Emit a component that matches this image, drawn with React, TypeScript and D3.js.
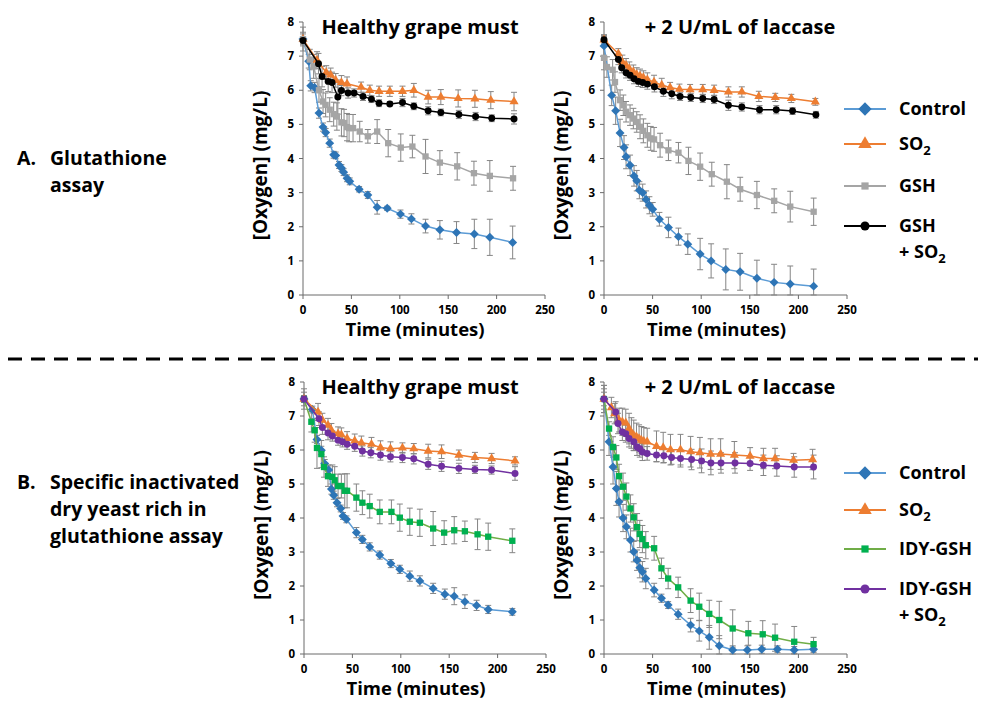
import React from 'react';
import * as d3 from 'd3';

// ---- data ----
const xTicks = [0, 50, 100, 150, 200, 250];
const yTicks = [0, 1, 2, 3, 4, 5, 6, 7, 8];

// A, healthy grape must
const aHealthyControlT = [0, 5.9, 8, 12, 16.5, 20.7, 23.4, 27.6, 31.7, 33.8, 37.2, 39.7, 42, 45.5, 48.3, 58, 67, 76.6, 87, 100.7, 112, 126.6, 141.4, 158.6, 177, 193, 216.6];
const aHealthyControlY = [7.5, 6.85, 6.13, 6.08, 5.33, 4.92, 4.76, 4.45, 4.11, 4.09, 3.81, 3.72, 3.6, 3.42, 3.33, 3.1, 2.93, 2.57, 2.54, 2.37, 2.23, 2.02, 1.91, 1.83, 1.79, 1.69, 1.54];
const aHealthyControlE = [0.15, 0.2, 0.15, 0.15, 0.15, 0.12, 0.12, 0.12, 0.1, 0.1, 0.1, 0.1, 0.1, 0.1, 0.1, 0.08, 0.1, 0.2, 0.06, 0.12, 0.15, 0.2, 0.27, 0.32, 0.43, 0.53, 0.48];
const aHealthySo2T = [0, 14.5, 24, 28.6, 33.8, 39.7, 45.5, 60, 69, 78.6, 89.7, 102.8, 114.5, 129.3, 142.4, 160.3, 177.6, 194, 218];
const aHealthySo2Y = [7.5, 6.88, 6.52, 6.45, 6.29, 6.23, 6.19, 6.09, 6.0, 5.97, 5.97, 5.97, 6.0, 5.8, 5.8, 5.76, 5.75, 5.71, 5.67];
const aHealthySo2E = [0.2, 0.25, 0.2, 0.2, 0.2, 0.2, 0.2, 0.15, 0.15, 0.15, 0.15, 0.15, 0.2, 0.2, 0.22, 0.25, 0.25, 0.25, 0.27];
const aHealthyGshT = [0, 7, 11, 16.5, 20.7, 23.4, 27.6, 31.7, 35, 39.7, 42.4, 45.5, 47.6, 51.7, 58.6, 67, 76.6, 88, 101, 113, 126.6, 141.4, 159.3, 176.6, 193, 217];
const aHealthyGshY = [7.5, 6.9, 6.7, 6.0, 5.67, 5.57, 5.43, 5.3, 5.23, 5.06, 5.04, 4.92, 4.89, 4.89, 4.79, 4.65, 4.79, 4.45, 4.32, 4.35, 4.06, 3.88, 3.77, 3.57, 3.49, 3.42];
const aHealthyGshE = [0.35, 0.3, 0.35, 0.35, 0.35, 0.35, 0.35, 0.35, 0.4, 0.4, 0.4, 0.4, 0.4, 0.4, 0.3, 0.2, 0.35, 0.4, 0.4, 0.33, 0.5, 0.35, 0.4, 0.35, 0.45, 0.35];
const aHealthyGshSo2T = [0, 16, 19.7, 26, 30, 36, 39.7, 46.6, 52.8, 62, 70.7, 78.6, 89.7, 102.8, 114.5, 129.3, 142.4, 161, 178.3, 195, 218];
const aHealthyGshSo2Y = [7.46, 6.78, 6.4, 6.26, 6.23, 5.8, 5.99, 5.92, 5.92, 5.82, 5.74, 5.62, 5.6, 5.64, 5.53, 5.4, 5.35, 5.29, 5.23, 5.18, 5.16];
const aHealthyGshSo2E = [0.1, 0.3, 0.3, 0.3, 0.3, 0.5, 0.15, 0.15, 0.12, 0.12, 0.1, 0.1, 0.06, 0.12, 0.1, 0.12, 0.1, 0.12, 0.12, 0.1, 0.15];

// A, + laccase
const aLaccaseControlT = [0, 7.9, 12, 16.5, 20.6, 22.7, 26.8, 30.9, 33.7, 36.4, 39.8, 43.3, 46.7, 50.1, 57, 66.3, 76.6, 86.2, 98.9, 110.2, 125.3, 140, 157.3, 175, 191.6, 215.7];
const aLaccaseControlY = [7.3, 5.85, 5.4, 4.75, 4.32, 4.05, 3.8, 3.49, 3.35, 3.07, 3.0, 2.8, 2.63, 2.51, 2.22, 1.98, 1.71, 1.49, 1.2, 1.0, 0.75, 0.68, 0.49, 0.37, 0.32, 0.26];
const aLaccaseControlE = [0.3, 0.3, 0.4, 0.4, 0.35, 0.35, 0.3, 0.3, 0.3, 0.25, 0.25, 0.25, 0.25, 0.2, 0.2, 0.3, 0.25, 0.3, 0.46, 0.5, 0.6, 0.54, 0.53, 0.53, 0.53, 0.5];
const aLaccaseSo2T = [0, 14.8, 18.9, 22.7, 26.1, 30.2, 33.7, 37.1, 40.5, 44.6, 51.5, 59.4, 68, 77.6, 88.6, 101.6, 113.3, 128, 141.8, 159.3, 176.2, 192.7, 217.4];
const aLaccaseSo2Y = [7.48, 7.07, 6.83, 6.73, 6.63, 6.54, 6.46, 6.42, 6.37, 6.31, 6.24, 6.15, 6.08, 6.03, 6.02, 6.02, 6.0, 5.95, 5.95, 5.82, 5.79, 5.76, 5.66];
const aLaccaseSo2E = [0.15, 0.15, 0.2, 0.2, 0.2, 0.2, 0.2, 0.2, 0.2, 0.2, 0.2, 0.2, 0.15, 0.15, 0.15, 0.15, 0.15, 0.15, 0.15, 0.15, 0.12, 0.12, 0.1];
const aLaccaseGshT = [0, 3, 8.9, 11.3, 16.5, 19.9, 22.7, 26.8, 30.2, 33.7, 37.1, 40.5, 44.6, 48.1, 51.5, 57.7, 66.3, 76.6, 86.9, 98.9, 110.9, 126.4, 140.1, 157.3, 175.1, 191.6, 215.7];
const aLaccaseGshY = [6.95, 6.68, 6.6, 6.24, 5.71, 5.56, 5.37, 5.27, 5.17, 5.07, 4.93, 4.81, 4.68, 4.59, 4.56, 4.39, 4.24, 4.17, 3.93, 3.76, 3.54, 3.32, 3.1, 2.93, 2.76, 2.59, 2.44];
const aLaccaseGshE = [0.35, 0.3, 0.3, 0.3, 0.3, 0.3, 0.3, 0.3, 0.3, 0.3, 0.35, 0.35, 0.35, 0.35, 0.35, 0.35, 0.3, 0.3, 0.4, 0.4, 0.35, 0.5, 0.35, 0.4, 0.35, 0.45, 0.4];
const aLaccaseGshSo2T = [0, 14.8, 18.2, 22.7, 26.8, 30.9, 35.4, 39.8, 44.6, 51.9, 61.1, 69.7, 78.3, 89.3, 101.6, 113.3, 128, 141.8, 160, 177.2, 194, 218];
const aLaccaseGshSo2Y = [7.48, 6.9, 6.66, 6.51, 6.44, 6.34, 6.26, 6.23, 6.18, 6.1, 5.97, 5.9, 5.82, 5.79, 5.76, 5.73, 5.56, 5.51, 5.43, 5.43, 5.39, 5.28];
const aLaccaseGshSo2E = [0.1, 0.15, 0.15, 0.15, 0.15, 0.15, 0.15, 0.15, 0.15, 0.15, 0.15, 0.15, 0.12, 0.12, 0.12, 0.12, 0.15, 0.12, 0.12, 0.12, 0.1, 0.1];

// B, healthy grape must
const bHealthyControlT = [0, 8.6, 13.4, 17.9, 21.4, 25.5, 28.3, 30.7, 34.1, 37.9, 40.3, 43.8, 54.1, 60.3, 67.9, 78.3, 89.7, 99, 109.3, 119.7, 133.4, 145.5, 155.2, 166.2, 178.3, 190.3, 215.2];
const bHealthyControlY = [7.5, 7.19, 6.31, 5.99, 5.6, 5.41, 4.85, 4.67, 4.45, 4.28, 4.06, 3.96, 3.57, 3.37, 3.15, 2.91, 2.66, 2.49, 2.29, 2.15, 1.93, 1.76, 1.7, 1.54, 1.43, 1.31, 1.24];
const bHealthyControlE = [0.1, 0.1, 0.12, 0.12, 0.12, 0.15, 0.15, 0.12, 0.12, 0.1, 0.1, 0.1, 0.15, 0.12, 0.12, 0.12, 0.12, 0.12, 0.15, 0.15, 0.15, 0.15, 0.25, 0.2, 0.15, 0.12, 0.1];
const bHealthySo2T = [0, 14.5, 19, 24.8, 28.3, 35.2, 38.6, 44.5, 52.4, 59.3, 69.7, 79, 89.3, 101.7, 113.4, 128.3, 142.1, 160, 176.6, 193.8, 218];
const bHealthySo2Y = [7.5, 7.12, 6.88, 6.73, 6.58, 6.48, 6.45, 6.34, 6.27, 6.21, 6.17, 6.07, 6.04, 6.06, 6.04, 5.97, 5.95, 5.85, 5.78, 5.75, 5.68];
const bHealthySo2E = [0.3, 0.25, 0.2, 0.2, 0.2, 0.2, 0.2, 0.2, 0.2, 0.2, 0.2, 0.2, 0.2, 0.15, 0.15, 0.2, 0.2, 0.15, 0.15, 0.15, 0.12];
const bHealthyIdyT = [0, 7.6, 11, 13.4, 17.9, 20.7, 24.8, 29.3, 31.7, 35.2, 38.6, 42.1, 44.5, 54.1, 60.3, 67.9, 78.3, 90.3, 99, 109.3, 119.7, 133.4, 144.8, 155.2, 166.2, 179.3, 190.3, 215.2];
const bHealthyIdyY = [7.5, 6.83, 6.58, 6.06, 5.88, 5.5, 5.23, 5.21, 5.11, 4.94, 4.94, 4.8, 4.8, 4.6, 4.45, 4.35, 4.18, 4.18, 4.01, 3.89, 3.86, 3.69, 3.57, 3.64, 3.61, 3.52, 3.45, 3.33];
const bHealthyIdyE = [0.1, 0.3, 0.35, 0.6, 0.4, 0.3, 0.3, 0.35, 0.4, 0.35, 0.35, 0.5, 0.5, 0.4, 0.35, 0.35, 0.35, 0.35, 0.4, 0.4, 0.4, 0.5, 0.35, 0.4, 0.3, 0.45, 0.4, 0.35];
const bHealthyIdySo2T = [0, 15.5, 19, 24.8, 29.3, 35.2, 39.7, 44.5, 52.4, 60.3, 69, 79, 89.3, 101.7, 113.4, 128.3, 142.1, 160, 176.6, 193.8, 218];
const bHealthyIdySo2Y = [7.5, 6.92, 6.66, 6.5, 6.41, 6.29, 6.24, 6.17, 6.11, 5.97, 5.92, 5.85, 5.8, 5.78, 5.74, 5.58, 5.52, 5.46, 5.43, 5.41, 5.31];
const bHealthyIdySo2E = [0.2, 0.2, 0.2, 0.2, 0.15, 0.15, 0.15, 0.15, 0.15, 0.15, 0.15, 0.15, 0.15, 0.15, 0.15, 0.15, 0.15, 0.15, 0.12, 0.12, 0.2];

// B, + laccase
const bLaccaseControlT = [0, 5.2, 9.3, 12.7, 15.5, 19.6, 23, 27.2, 30.6, 34, 36.8, 39.5, 43, 51.6, 59.1, 66, 76.3, 89.1, 98, 108.3, 118.6, 132.4, 147.5, 162.3, 178.5, 195.7, 215.6];
const bLaccaseControlY = [7.5, 6.24, 5.5, 4.87, 4.48, 4.0, 3.74, 3.35, 3.01, 2.76, 2.54, 2.42, 2.22, 1.88, 1.64, 1.44, 1.17, 0.85, 0.68, 0.49, 0.24, 0.12, 0.12, 0.14, 0.14, 0.12, 0.14];
const bLaccaseControlE = [0.4, 0.4, 0.5, 0.5, 0.45, 0.4, 0.35, 0.35, 0.3, 0.3, 0.3, 0.3, 0.3, 0.2, 0.12, 0.1, 0.15, 0.2, 0.3, 0.35, 0.3, 0.12, 0.12, 0.12, 0.1, 0.1, 0.1];
const bLaccaseSo2T = [0, 7.6, 11, 15.5, 18.9, 22.4, 25.8, 28.2, 30.6, 33.4, 36.1, 38.5, 41, 44.4, 54, 60.9, 68.4, 78.7, 89.1, 98.7, 109.7, 120, 134.1, 150.3, 164, 176, 195, 214.6];
const bLaccaseSo2Y = [7.5, 7.25, 7.07, 6.88, 6.83, 6.8, 6.63, 6.5, 6.43, 6.39, 6.34, 6.29, 6.26, 6.24, 6.11, 6.07, 6.01, 6.01, 5.95, 5.92, 5.88, 5.88, 5.85, 5.82, 5.75, 5.75, 5.7, 5.72];
const bLaccaseSo2E = [0.4, 0.3, 0.3, 0.35, 0.4, 0.4, 0.45, 0.45, 0.45, 0.4, 0.4, 0.4, 0.4, 0.4, 0.45, 0.45, 0.45, 0.45, 0.45, 0.45, 0.45, 0.45, 0.4, 0.25, 0.3, 0.3, 0.2, 0.3];
const bLaccaseIdyT = [0, 5.2, 9.3, 12.7, 15.5, 19.6, 23, 27.2, 30.6, 34, 36.8, 39.5, 43, 51.6, 59.1, 66, 76.3, 89.1, 98, 108.3, 118.6, 132.4, 148.5, 163.3, 176, 195.7, 215.6];
const bLaccaseIdyY = [7.5, 6.63, 6.09, 5.78, 5.23, 4.92, 4.63, 4.28, 4.02, 3.73, 3.53, 3.38, 3.2, 3.11, 2.52, 2.22, 1.96, 1.57, 1.39, 1.18, 1.0, 0.75, 0.61, 0.58, 0.48, 0.36, 0.29];
const bLaccaseIdyE = [0.2, 0.2, 0.3, 0.35, 0.35, 0.4, 0.4, 0.4, 0.4, 0.4, 0.4, 0.4, 0.4, 0.35, 0.3, 0.3, 0.3, 0.35, 0.4, 0.4, 0.55, 0.55, 0.35, 0.4, 0.4, 0.45, 0.2];
const bLaccaseIdySo2T = [0, 12, 14.4, 18.9, 22.4, 25.8, 30.6, 34, 36.8, 39.5, 44.4, 54, 61.6, 69.5, 78.7, 90.1, 100.4, 110, 120.4, 134.8, 150.3, 164, 177.8, 195.7, 215.6];
const bLaccaseIdySo2Y = [7.5, 7.12, 6.78, 6.53, 6.48, 6.34, 6.24, 6.09, 6.04, 5.94, 5.9, 5.85, 5.83, 5.78, 5.75, 5.72, 5.68, 5.62, 5.62, 5.62, 5.6, 5.55, 5.53, 5.5, 5.5];
const bLaccaseIdySo2E = [0.3, 0.3, 0.3, 0.25, 0.25, 0.25, 0.25, 0.25, 0.25, 0.25, 0.2, 0.2, 0.2, 0.2, 0.25, 0.3, 0.35, 0.35, 0.3, 0.3, 0.2, 0.3, 0.3, 0.3, 0.35];

const FONT = "'Open Sans', Lato, sans-serif";
const ERR = '#858585';
const AXIS = '#6b6b6b';

type Style = { line: string; fill: string; shape: 'diamond' | 'triangle' | 'square' | 'circle' };
const sControl: Style = { line: '#5b9bd5', fill: '#2e75b6', shape: 'diamond' };
const sSo2: Style = { line: '#ed7d31', fill: '#ed7d31', shape: 'triangle' };
const sGsh: Style = { line: '#a5a5a5', fill: '#a5a5a5', shape: 'square' };
const sGshSo2: Style = { line: '#000000', fill: '#000000', shape: 'circle' };
const sIdy: Style = { line: '#70ad47', fill: '#00b050', shape: 'square' };
const sIdySo2: Style = { line: '#7030a0', fill: '#7030a0', shape: 'circle' };

type Series = { t: number[]; y: number[]; e: number[]; style: Style };

function markerPath(shape: Style['shape'], big = false) {
  const k = big ? 2.2 : 1;
  if (shape === 'diamond') return d3.symbol(d3.symbolSquare, 40 * k)();
  if (shape === 'triangle') return d3.symbol(d3.symbolTriangle, 36 * k)();
  if (shape === 'square') return d3.symbol(d3.symbolSquare, 40 * (big ? 1.3 : 1))();
  return d3.symbol(d3.symbolCircle, 38 * (big ? 1.7 : 1))();
}

function Marker({ x, y, st, big }: { x: number; y: number; st: Style; big?: boolean }) {
  const rot = st.shape === 'diamond' ? ' rotate(45)' : '';
  return <path d={markerPath(st.shape, big) || ''} transform={`translate(${x},${y})${rot}`} fill={st.fill} />;
}

function Panel({ x0, x1, y0, y1, title, titleX, series }: { x0: number; x1: number; y0: number; y1: number; title: string; titleX: number; series: Series[] }) {
  const xs = d3.scaleLinear().domain([0, 250]).range([x0, x1]);
  const ys = d3.scaleLinear().domain([0, 8]).range([y0, y1]);
  const line = d3.line<[number, number]>().x(d => xs(d[0])).y(d => ys(d[1]));
  const cx = (x0 + x1) / 2;
  return (
    <g fontFamily={FONT} fontWeight="bold">
      {/* axes */}
      <line x1={x0} x2={x0} y1={y0} y2={y1} stroke={AXIS} strokeWidth={1} />
      <line x1={x0} x2={x1} y1={y0} y2={y0} stroke={AXIS} strokeWidth={1} />
      {yTicks.map(v => (
        <g key={'y' + v}>
          <line x1={x0 - 4} x2={x0} y1={ys(v)} y2={ys(v)} stroke={AXIS} />
          <text x={x0 - 9} y={ys(v) + 4} fontSize={11.5} textAnchor="end" fill="#000">{v}</text>
        </g>
      ))}
      {xTicks.map(v => (
        <g key={'x' + v}>
          <line x1={xs(v)} x2={xs(v)} y1={y0} y2={y0 + 4} stroke={AXIS} />
          <text x={xs(v)} y={y0 + 19} fontSize={11.5} textAnchor="middle" fill="#000">{v}</text>
        </g>
      ))}
      {/* error bars */}
      {series.map((s, si) => s.t.map((t, i) => {
        const lo = ys(Math.max(0, s.y[i] - s.e[i]));
        const hi = ys(Math.min(8, s.y[i] + s.e[i]));
        const px = xs(t);
        return (
          <g key={`e${si}-${i}`} stroke={ERR} strokeWidth={1}>
            <line x1={px} x2={px} y1={lo} y2={hi} />
            <line x1={px - 3} x2={px + 3} y1={lo} y2={lo} />
            <line x1={px - 3} x2={px + 3} y1={hi} y2={hi} />
          </g>
        );
      }))}
      {/* series */}
      {series.map((s, si) => (
        <g key={'s' + si}>
          <path d={line(s.t.map((t, i) => [t, s.y[i]] as [number, number])) || ''} fill="none" stroke={s.style.line} strokeWidth={1.5} />
          {s.t.map((t, i) => <Marker key={i} x={xs(t)} y={ys(s.y[i])} st={s.style} />)}
        </g>
      ))}
      {/* titles */}
      <text x={titleX} y={y1 + 12} fontSize={20} textAnchor="middle" fill="#000">{title}</text>
      <text x={cx - 9} y={y0 + 41} fontSize={18.5} textAnchor="middle" fill="#000">Time (minutes)</text>
      <text transform={`translate(${x0 - 36},${(y0 + y1) / 2 + 7}) rotate(-90)`} fontSize={19} textAnchor="middle" fill="#000">[Oxygen] (mg/L)</text>
    </g>
  );
}

function Legend({ x, ys, names, styles }: { x: number; ys: number[]; names: string[]; styles: Style[] }) {
  return (
    <g fontFamily={FONT} fontWeight="bold" fontSize={18}>
      {names.map((n, i) => {
        const st = styles[i];
        const y = ys[i];
        const isSo2 = n.endsWith('+ SO2');
        const base = isSo2 ? n.replace(' + SO2', '') : n;
        return (
          <g key={n}>
            <line x1={x} x2={x + 42} y1={y} y2={y} stroke={st.line} strokeWidth={2} />
            <Marker x={x + 21} y={y} st={st} big />
            {base === 'SO2' ? (
              <text x={x + 55} y={y + 6} fill="#000">SO<tspan dy={5} fontSize={13}>2</tspan></text>
            ) : (
              <text x={x + 55} y={y + 6} fill="#000">{base}</text>
            )}
            {isSo2 && (
              <text x={x + 55} y={y + 32} fill="#000">+ SO<tspan dy={5} fontSize={13}>2</tspan></text>
            )}
          </g>
        );
      })}
    </g>
  );
}

export default function App() {
  const aLeft: Series[] = [
    { t: aHealthyControlT, y: aHealthyControlY, e: aHealthyControlE, style: sControl },
    { t: aHealthySo2T, y: aHealthySo2Y, e: aHealthySo2E, style: sSo2 },
    { t: aHealthyGshT, y: aHealthyGshY, e: aHealthyGshE, style: sGsh },
    { t: aHealthyGshSo2T, y: aHealthyGshSo2Y, e: aHealthyGshSo2E, style: sGshSo2 },
  ];
  const aRight: Series[] = [
    { t: aLaccaseControlT, y: aLaccaseControlY, e: aLaccaseControlE, style: sControl },
    { t: aLaccaseGshT, y: aLaccaseGshY, e: aLaccaseGshE, style: sGsh },
    { t: aLaccaseSo2T, y: aLaccaseSo2Y, e: aLaccaseSo2E, style: sSo2 },
    { t: aLaccaseGshSo2T, y: aLaccaseGshSo2Y, e: aLaccaseGshSo2E, style: sGshSo2 },
  ];
  const bLeft: Series[] = [
    { t: bHealthyControlT, y: bHealthyControlY, e: bHealthyControlE, style: sControl },
    { t: bHealthyIdyT, y: bHealthyIdyY, e: bHealthyIdyE, style: sIdy },
    { t: bHealthySo2T, y: bHealthySo2Y, e: bHealthySo2E, style: sSo2 },
    { t: bHealthyIdySo2T, y: bHealthyIdySo2Y, e: bHealthyIdySo2E, style: sIdySo2 },
  ];
  const bRight: Series[] = [
    { t: bLaccaseControlT, y: bLaccaseControlY, e: bLaccaseControlE, style: sControl },
    { t: bLaccaseIdyT, y: bLaccaseIdyY, e: bLaccaseIdyE, style: sIdy },
    { t: bLaccaseSo2T, y: bLaccaseSo2Y, e: bLaccaseSo2E, style: sSo2 },
    { t: bLaccaseIdySo2T, y: bLaccaseIdySo2Y, e: bLaccaseIdySo2E, style: sIdySo2 },
  ];
  return (
    <svg width={986} height={702} style={{ position: 'absolute', left: 0, top: 0, background: '#fff' }}>
      <Panel x0={303} x1={545} y0={295} y1={22} title="Healthy grape must" titleX={420} series={aLeft} />
      <Panel x0={604} x1={847} y0={295} y1={22} title="+ 2 U/mL of laccase" titleX={740} series={aRight} />
      <Panel x0={304} x1={546} y0={654} y1={382} title="Healthy grape must" titleX={420} series={bLeft} />
      <Panel x0={604} x1={847} y0={654} y1={382} title="+ 2 U/mL of laccase" titleX={740} series={bRight} />

      <Legend x={844} ys={[109, 144, 186, 226]} names={['Control', 'SO2', 'GSH', 'GSH + SO2']} styles={[sControl, sSo2, sGsh, sGshSo2]} />
      <Legend x={844} ys={[473, 510, 549, 589]} names={['Control', 'SO2', 'IDY-GSH', 'IDY-GSH + SO2']} styles={[sControl, sSo2, sIdy, sIdySo2]} />

      <line x1={8} x2={978} y1={359} y2={359} stroke="#000" strokeWidth={3} strokeDasharray="14 9" />

      <g fontFamily={FONT} fontWeight="bold" fontSize={19.5} fill="#000">
        <text x={17} y={165}>A.</text>
        <text x={50} y={165}>Glutathione</text>
        <text x={50} y={192}>assay</text>
        <text x={17} y={489}>B.</text>
        <text x={50} y={489}>Specific inactivated</text>
        <text x={50} y={516}>dry yeast rich in</text>
        <text x={50} y={543}>glutathione assay</text>
      </g>
    </svg>
  );
}
